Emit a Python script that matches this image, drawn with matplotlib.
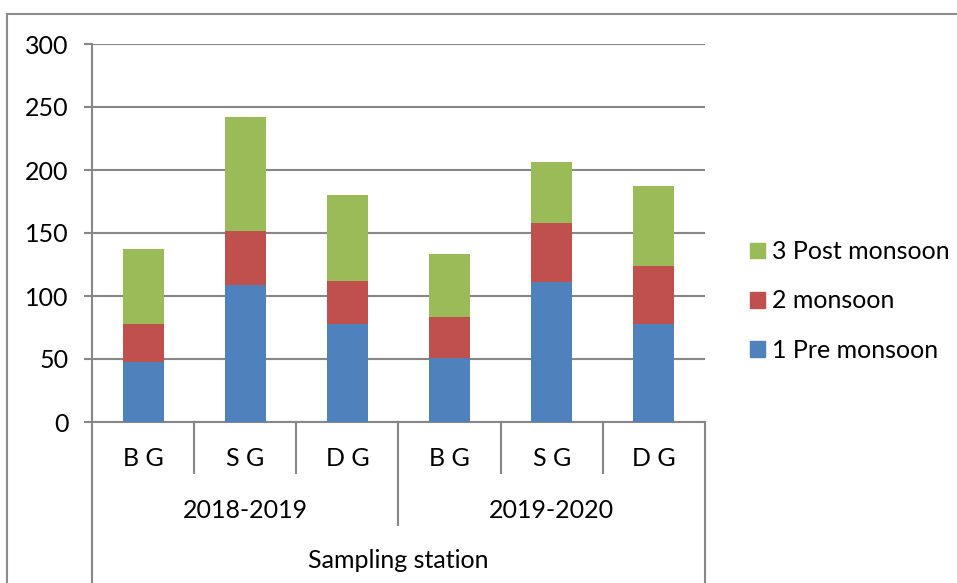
import matplotlib
matplotlib.use("Agg")
import matplotlib.pyplot as plt
import matplotlib.transforms as mtransforms
from matplotlib.lines import Line2D
from matplotlib.patches import Patch

plt.rcParams['font.family'] = ['Lato', 'DejaVu Sans']

stations = ["B G", "S G", "D G", "B G", "S G", "D G"]
years = ["2018-2019", "2019-2020"]
pre_monsoon = [48, 109, 78, 51, 111, 77.5]
monsoon = [30, 42.5, 34, 32, 47, 46]
post_monsoon = [59, 90.5, 68, 50, 48, 63.5]
series_labels = ["1 Pre monsoon", "2 monsoon", "3 Post monsoon"]
colors = ["#4F81BD", "#C0504D", "#9BBB59"]
axis_title = "Sampling station"

W, H = 957, 583
fig = plt.figure(figsize=(W / 100, H / 100), dpi=100)
ax = fig.add_axes([92 / W, 1 - 422 / H, 613 / W, 378 / H])

grid_c = "#878787"
fs = 18

x = list(range(len(stations)))
ax.bar(x, pre_monsoon, width=0.4, color=colors[0], zorder=3)
bottom2 = pre_monsoon
ax.bar(x, monsoon, width=0.4, bottom=bottom2, color=colors[1], zorder=3)
bottom3 = [a + b for a, b in zip(pre_monsoon, monsoon)]
ax.bar(x, post_monsoon, width=0.4, bottom=bottom3, color=colors[2], zorder=3)

ax.set_xlim(-0.5, len(stations) - 0.5)
ax.set_ylim(0, 300)
ax.set_yticks(range(0, 301, 50))
ax.yaxis.grid(True, color=grid_c, linewidth=1.5, zorder=0)
ax.set_xticks([])
for s in ["top", "right"]:
    ax.spines[s].set_visible(False)
for s in ["left", "bottom"]:
    ax.spines[s].set_color(grid_c)
    ax.spines[s].set_linewidth(1.5)
ax.tick_params(axis="y", length=6, width=1.5, color=grid_c, pad=11, labelsize=fs)

# multi-level category axis
tr = mtransforms.blended_transform_factory(ax.transData, fig.transFigure)
y_axis = 1 - 422 / H
y_lvl1 = 1 - 473 / H
y_lvl2 = 1 - 525 / H
for i in range(len(stations) + 1):
    xb = i - 0.5
    if i in (0, len(stations)):
        y_end = 0
    elif i == 3:
        y_end = y_lvl2
    else:
        y_end = y_lvl1
    ax.add_line(Line2D([xb, xb], [y_axis, y_end], transform=tr, color=grid_c,
                       linewidth=1.5, clip_on=False))

for i, s in enumerate(stations):
    ax.text(i, 1 - 458 / H, s, transform=tr, ha="center", va="center", fontsize=fs)
for j, yr in enumerate(years):
    ax.text(3 * j + 1, 1 - 510 / H, yr, transform=tr, ha="center", va="center", fontsize=fs)
ax.text(2.5, 1 - 560 / H, axis_title, transform=tr, ha="center", va="center", fontsize=fs)

# legend
handles = [Patch(color=c) for c in colors][::-1]
labels = series_labels[::-1]
fig.legend(handles, labels, loc="center left", bbox_to_anchor=(727 / W, 1 - 301 / H),
           frameon=False, fontsize=fs, handlelength=0.6, handleheight=0.6,
           handletextpad=0.3, labelspacing=1.05)

# chart border
fig.add_artist(Line2D([7 / W, 1], [1 - 14 / H, 1 - 14 / H], transform=fig.transFigure,
                      color="#8c8c8c", linewidth=1.5))
fig.add_artist(Line2D([7 / W, 7 / W], [0, 1 - 14 / H], transform=fig.transFigure,
                      color="#8c8c8c", linewidth=1.5))

fig.savefig("out.png", dpi=100)
